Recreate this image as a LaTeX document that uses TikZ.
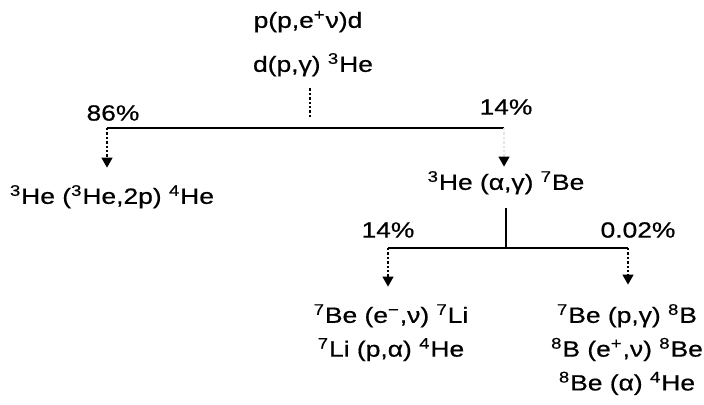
\documentclass[tikz,border=0pt]{standalone}
\usepackage{fontspec}
\setmainfont{Liberation Sans}[FakeStretch=1.2, FakeBold=0.6]
\usetikzlibrary{arrows.meta,positioning}
\tikzset{
  >={Triangle[length=5pt,width=5.5pt,color=black]},
  rxn/.style={font=\fontsize{11}{13}\selectfont, inner sep=1pt, text height=8.2pt, text depth=2.4pt},
  pct/.style={font=\fontsize{11}{13}\selectfont, inner sep=1pt},
  trunk/.style={line width=1.1pt},
  stem/.style={line width=0.6pt},
  drop/.style={->, line width=0.7pt, dash pattern=on 1.2pt off 1pt},
}

\begin{document}
\begin{tikzpicture}[x=0.5pt, y=-0.5pt]
  \useasboundingbox (0,0) rectangle (704,404);
  \node[rxn] (ppd) at (308,22) {p(p,e\textsuperscript{+}ν)d};
  \node[rxn] (dpg) at (313,66) {d(p,γ) \textsuperscript{3}He};
  \coordinate (s1) at (310,128);
  \coordinate (s86) at (107,128);
  \coordinate (s14) at (504,128);
  \draw[drop, -, shorten <=4.7pt, shorten >=5pt] (s1 |- dpg.south) -- (s1);
  \draw[trunk] (s86) -- (s14);
  \node[pct] (p86) at (113,113) {86\%};
  \node[pct] (p14a) at (506,107) {14\%};
  \node[rxn] (hehe) at (112,198) {\textsuperscript{3}He (\textsuperscript{3}He,2p) \textsuperscript{4}He};
  \node[rxn] (heag) at (506,184) {\textsuperscript{3}He (α,γ) \textsuperscript{7}Be};
  \draw[drop, shorten >=8.7pt] (s86) -- (s86 |- hehe.north);
  \draw[drop, draw=black!10, shorten >=2.2pt] (s14) -- (s14 |- heag.north);
  \coordinate (s2) at (506,248);
  \coordinate (s14b) at (388,248);
  \coordinate (s002) at (628,248);
  \draw[stem, shorten <=5.7pt] (heag.south) -- (s2);
  \draw[trunk] (s14b) -- (s002);
  \node[pct] (p14b) at (388,230) {14\%};
  \node[pct] (p002) at (638,230) {0.02\%};
  \node[rxn] (bel) at (391,317) {\textsuperscript{7}Be (e\textsuperscript{−},ν) \textsuperscript{7}Li};
  \node[rxn, below=3.9pt of bel] (lipa) {\textsuperscript{7}Li (p,α) \textsuperscript{4}He};
  \node[rxn] (bepg) at (627,317) {\textsuperscript{7}Be (p,γ) \textsuperscript{8}B};
  \node[rxn, below=3.9pt of bepg] (bev) {\textsuperscript{8}B (e\textsuperscript{+},ν) \textsuperscript{8}Be};
  \node[rxn, below=3.9pt of bev] (bea) {\textsuperscript{8}Be (α) \textsuperscript{4}He};
  \draw[drop, shorten >=8.7pt] (s14b) -- (s14b |- bel.north);
  \draw[drop, shorten >=9.7pt] (s002) -- (s002 |- bepg.north);
\end{tikzpicture}
\end{document}
